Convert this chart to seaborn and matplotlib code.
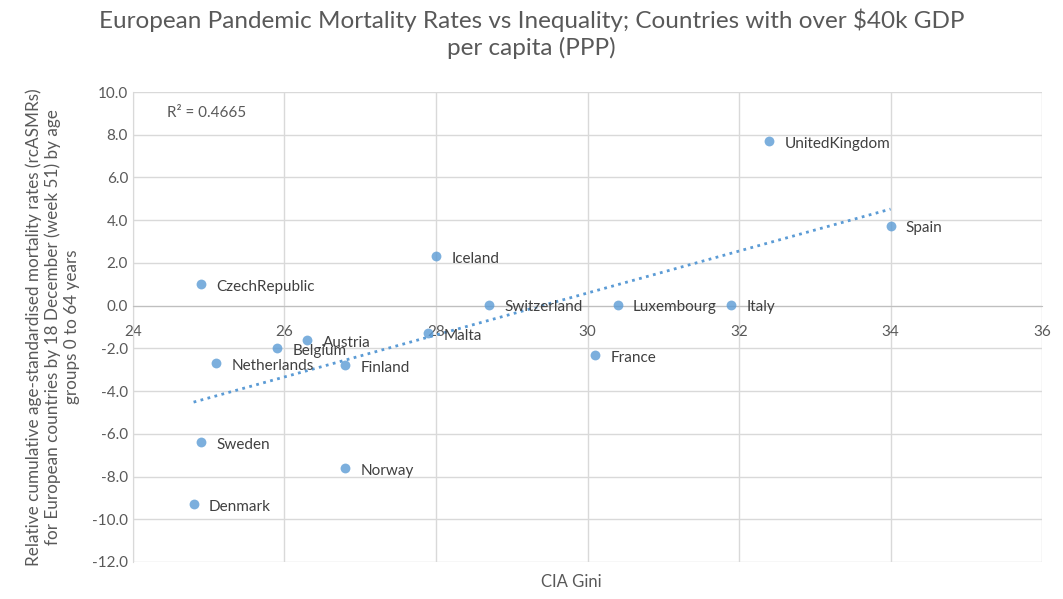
import pandas as pd
import seaborn as sns
import matplotlib.pyplot as plt

countries = ["Denmark", "Sweden", "CzechRepublic", "Netherlands", "Belgium", "Austria",
             "Finland", "Norway", "Iceland", "Malta", "Switzerland", "France",
             "Luxembourg", "Italy", "UnitedKingdom", "Spain"]
gini = [24.8, 24.9, 24.9, 25.1, 25.9, 26.3, 26.8, 26.8, 28.0, 27.9, 28.7, 30.1, 30.4, 31.9, 32.4, 34.0]
mortality = [-9.3, -6.4, 1.0, -2.7, -2.0, -1.6, -2.8, -7.6, 2.3, -1.3, 0.05, -2.3, 0.05, 0.05, 7.7, 3.75]

df = pd.DataFrame({"gini": gini, "rate": mortality, "country": countries})

sns.set_style("white")
plt.rcParams['font.family'] = ['Lato', 'DejaVu Sans']
txt = "#595959"
blue = "#5B9BD5"

fig = plt.figure(figsize=(10.63, 5.99), dpi=100)
ax = fig.add_axes([0.1251, 0.0618, 0.8552, 0.7846])

sns.regplot(data=df, x="gini", y="rate", ax=ax, ci=None, truncate=True,
            scatter_kws={"s": 50, "color": blue, "linewidths": 0, "zorder": 3},
            line_kws={"color": blue, "linestyle": (0, (1, 1.6)), "linewidth": 2, "zorder": 2})

for _, r in df.iterrows():
    ax.annotate(r["country"], (r["gini"], r["rate"]), xytext=(11, -2), textcoords="offset points",
                ha="left", va="center", fontsize=11, color="#404040")

ax.set_xlim(24, 36)
ax.set_ylim(-12, 10)
ax.set_xticks(range(24, 37, 2))
ax.set_yticks(range(-12, 11, 2))
ax.set_yticklabels([f"{v:.1f}" for v in range(-12, 11, 2)])
ax.grid(True, color="#d9d9d9", linewidth=1)
ax.set_axisbelow(True)
for s in ["top", "right"]:
    ax.spines[s].set_visible(False)
ax.spines["bottom"].set_position(("data", 0))
ax.spines["bottom"].set_color("#bfbfbf")
ax.spines["left"].set_color("#d9d9d9")
ax.tick_params(length=0, labelsize=11, labelcolor=txt)
ax.tick_params(axis="x", pad=14)

ax.set_xlabel("")
ax.set_ylabel("Relative cumulative age-standardised mortality rates (rcASMRs)\n"
              "for European countries by 18 December (week 51) by age\n"
              "groups 0 to 64 years", fontsize=12.3, color=txt, labelpad=9)
fig.text(0.537, 0.028, "CIA Gini", ha="center", va="center", fontsize=12, color=txt)
ax.text(24.45, 9.0, "R² = 0.4665", fontsize=11, color=txt, va="center")

fig.suptitle("European Pandemic Mortality Rates vs Inequality; Countries with over $40k GDP\nper capita (PPP)",
             y=0.985, fontsize=17.5, color=txt, linespacing=1.25)

fig.savefig("out.png", dpi=100)
